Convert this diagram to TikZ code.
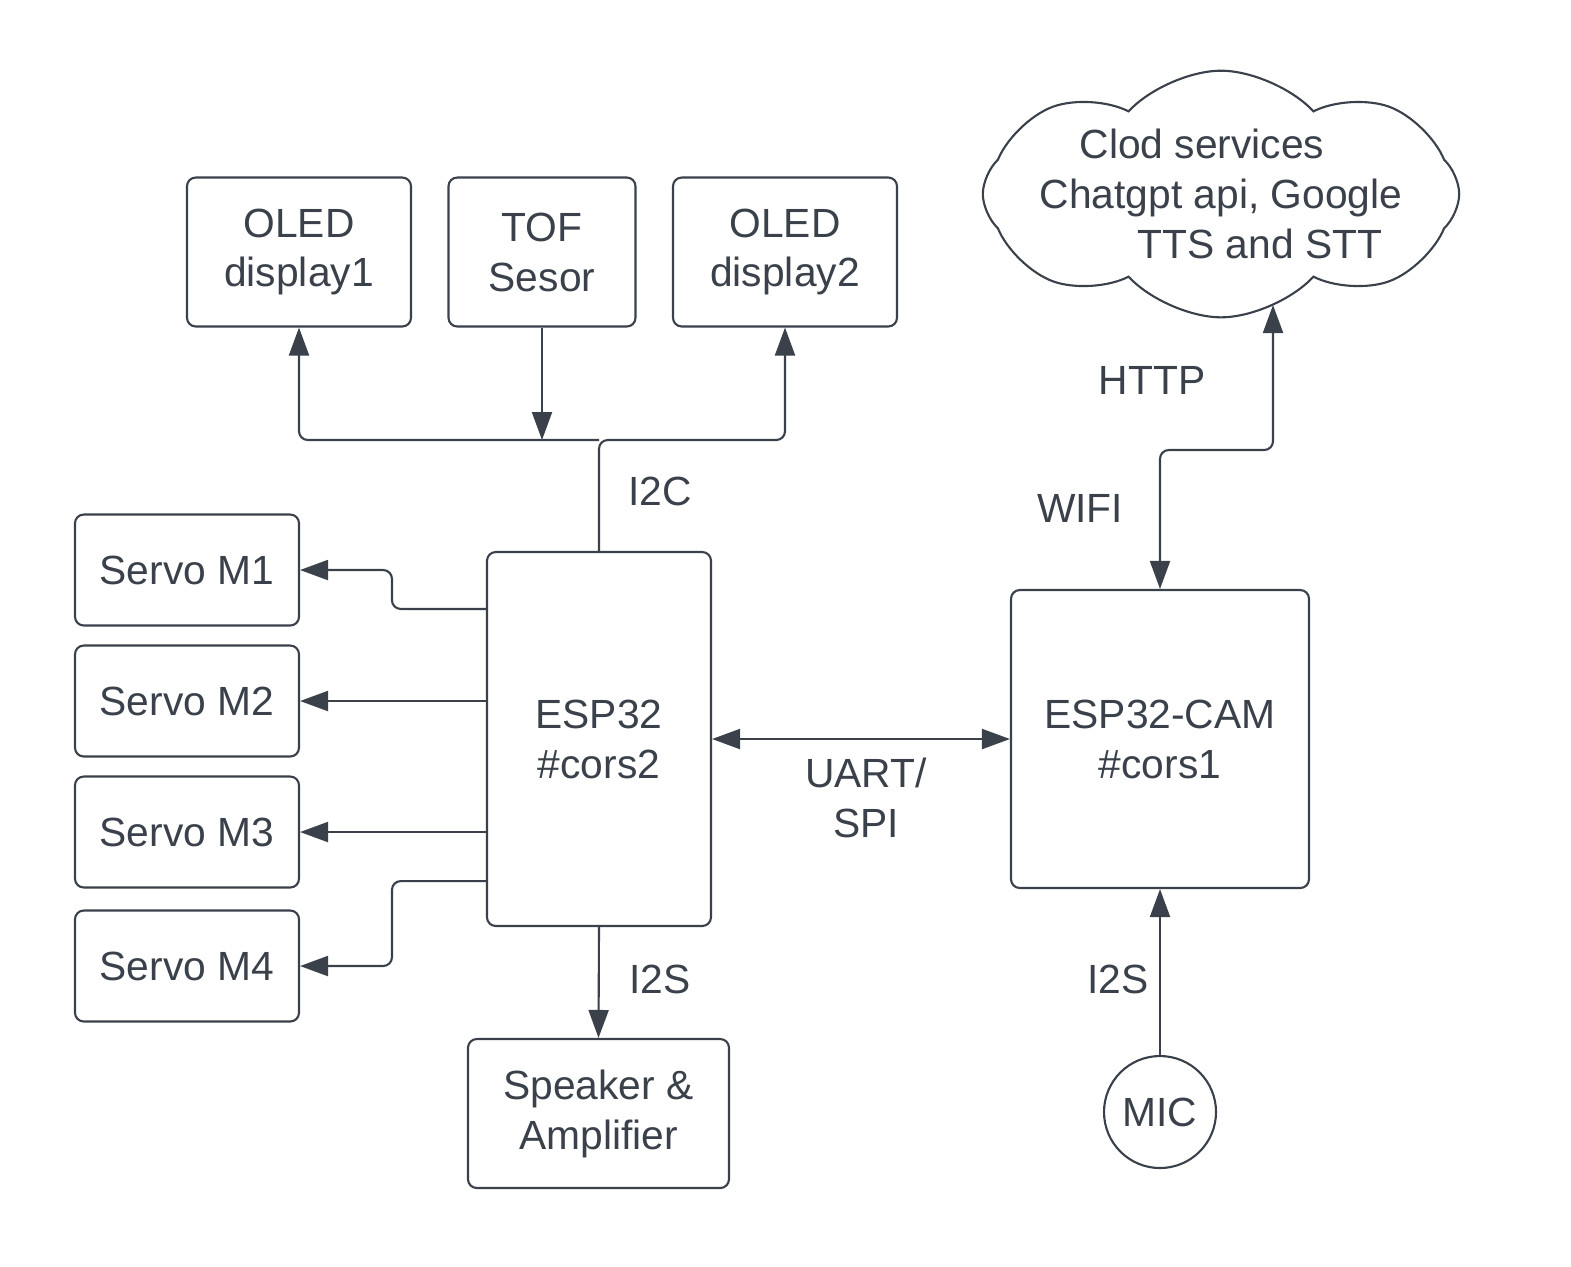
\documentclass[tikz,border=0pt]{standalone}
\usepackage{fontspec}
\setmainfont{Liberation Sans}
\usetikzlibrary{positioning}
\usetikzlibrary{arrows.meta,shapes.symbols,calc}
\definecolor{ink}{RGB}{58,65,74}

\begin{document}
\begin{tikzpicture}[->, >={Triangle[length=2.8mm,width=2mm]}, color=ink, node distance=2.43cm,
  font=\fontsize{11.6}{14.2}\selectfont]
\tikzstyle{block}=[draw,rounded corners=2.5pt,align=center,inner sep=0pt,line width=0.6pt]
\tikzstyle{wire}=[line width=0.6pt,rounded corners=2.5pt]
\tikzstyle{lbl}=[align=center,inner sep=0pt]
\useasboundingbox (0,0) rectangle (15.71,-12.66);
% top row, on the I2C bus
\node[block,minimum width=2.24cm,minimum height=1.49cm] (oled1) at (2.99,-2.52) {OLED\\display1};
\node[block,minimum width=1.87cm,minimum height=1.49cm] (tof)   [right of=oled1] {TOF\\Sesor};
\node[block,minimum width=2.24cm,minimum height=1.49cm] (oled2) [right of=tof]   {OLED\\display2};
% servos
\node[block,minimum width=2.24cm,minimum height=1.11cm] (s1) at (1.87,-5.70) {Servo M1};
\node[block,minimum width=2.24cm,minimum height=1.11cm] (s2) [below of=s1,node distance=1.31cm] {Servo M2};
\node[block,minimum width=2.24cm,minimum height=1.11cm] (s3) [below of=s2,node distance=1.31cm] {Servo M3};
\node[block,minimum width=2.24cm,minimum height=1.11cm] (s4) [below of=s3,node distance=1.34cm] {Servo M4};
% controllers
\node[block,minimum width=2.24cm,minimum height=3.74cm] (esp) at (5.99,-7.39) {ESP32\\\#cors2};
\node[block,minimum width=2.98cm,minimum height=2.98cm] (cam) at (11.60,-7.39) {ESP32-CAM\\\#cors1};
\node[block,minimum width=2.61cm,minimum height=1.49cm] (spk) at (5.985,-11.135) {Speaker \&\\Amplifier};
\node[draw,circle,line width=0.6pt,minimum size=1.12cm,inner sep=0pt] (mic) at (11.60,-11.12) {MIC};
\node[draw,cloud,cloud puffs=8,cloud puff arc=95,aspect=2.7,line width=0.6pt,
  minimum width=4.7cm,minimum height=1.75cm,inner sep=-3pt,align=center] (cloud) at (12.21,-1.94)
  {Clod services\hspace*{0.38cm}\\Chatgpt api, Google\\\hspace*{0.78cm}TTS and STT};
% labels
\node[lbl] (lI2C) at (6.60,-4.91) {I2C};
\node[lbl] (lI2Sa) at (6.60,-9.79) {I2S};
\node[lbl] (lI2Sb) at (11.18,-9.79) {I2S};
\node[lbl] (luart) at (8.66,-7.98) {UART/\\SPI};
\node[lbl] (lhttp) at (11.52,-3.80) {HTTP};
\node[lbl] (lwifi) at (10.80,-5.08) {WIFI};
\coordinate (bus) at (5.99,-4.40);
\coordinate (http) at (12.73,-3.05);
% connectors
\draw[wire] (esp.north) -- (bus) -| (oled2.south);
\draw[wire] (bus) -| (oled1.south);
\draw[wire] (tof.south) -- (tof.south |- bus);
\draw[wire] ([yshift=-0.58cm]esp.north west) -- ++(-0.94,0) |- (s1.east);
\draw[wire] (esp.west |- s2.east) -- (s2.east);
\draw[wire] (esp.west |- s3.east) -- (s3.east);
\draw[wire] ([yshift=0.46cm]esp.south west) -- ++(-0.94,0) |- (s4.east);
\draw[wire] (esp.south) -- (spk.north);
\draw[wire,<->] (esp.east) -- (cam.west);
\draw[wire,<->] (cam.north) -- (11.60,-4.50) -| (http);
\draw[wire] (mic.north) -- (cam.south);
\end{tikzpicture}
\end{document}
